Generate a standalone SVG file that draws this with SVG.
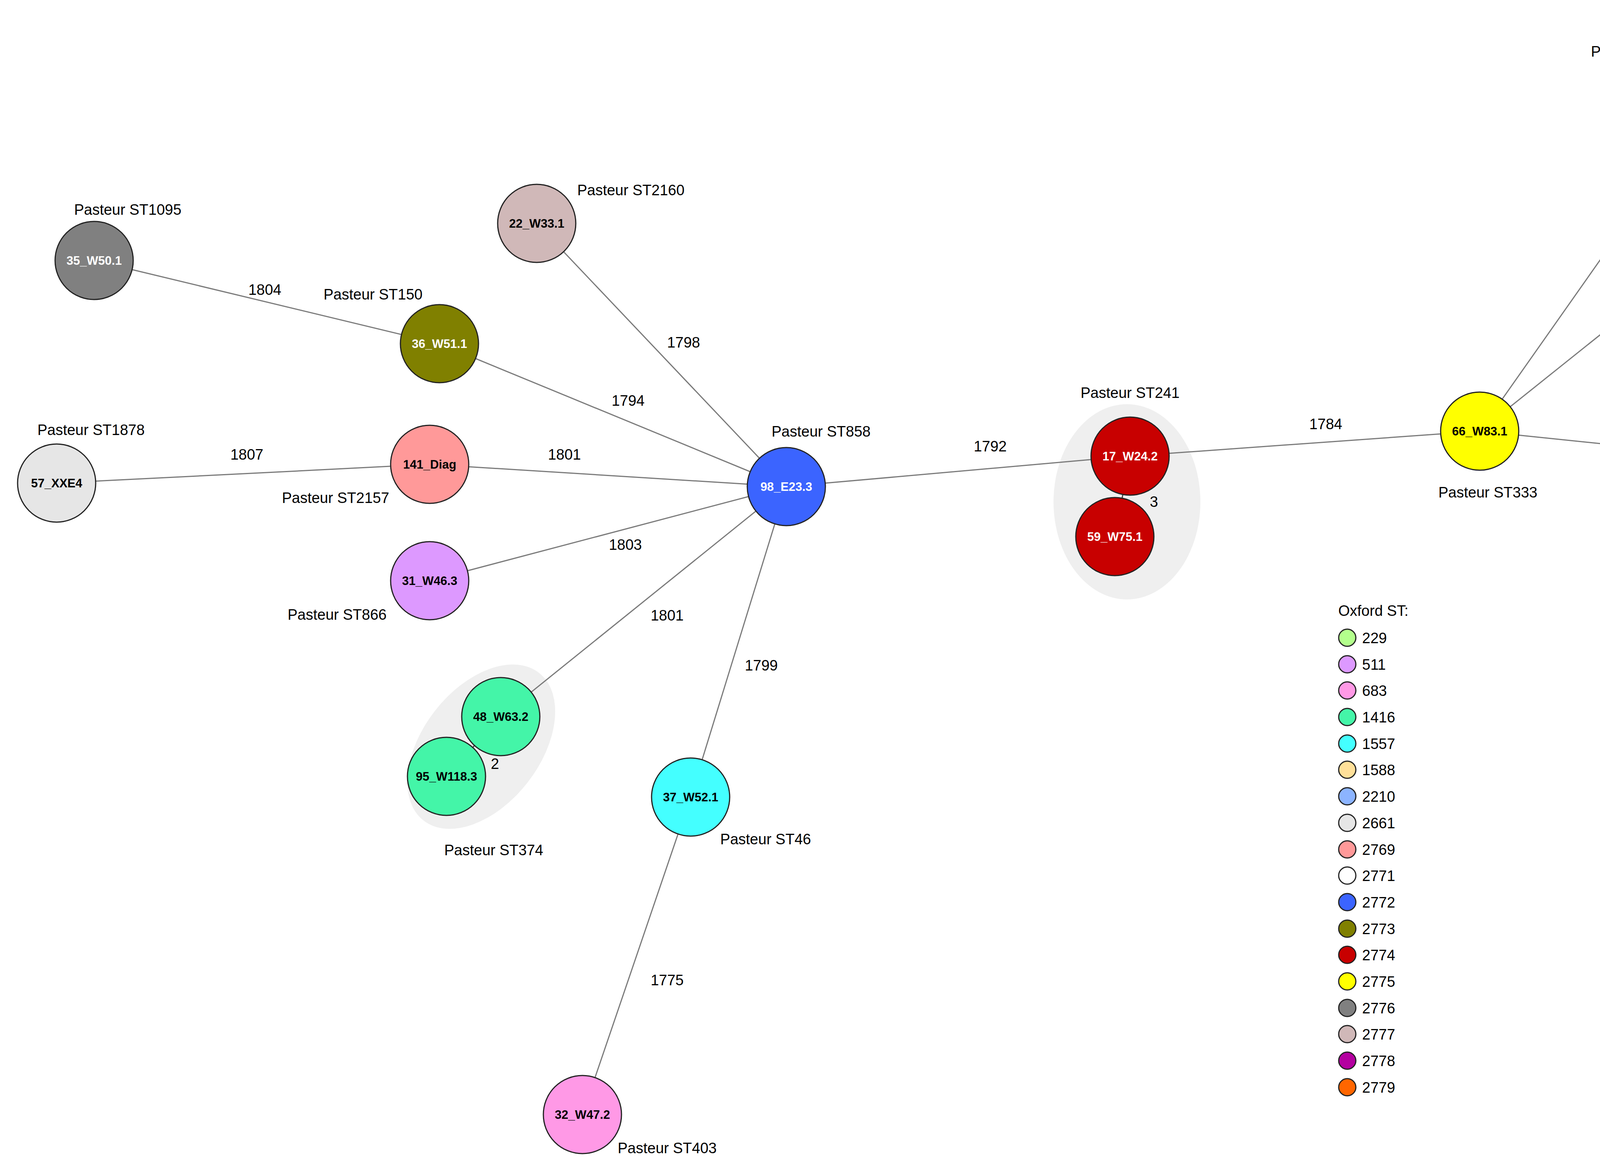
<svg xmlns="http://www.w3.org/2000/svg" width="5567" height="2996" viewBox="0 0 5567 2996">
<style>
.n{stroke:#222;stroke-width:3}
.nl{font-family:"Liberation Sans",Arial,sans-serif;font-weight:bold;font-size:31px;text-anchor:middle;dominant-baseline:central;fill:#000}
.w{fill:#fff}
.pl{font-family:"Liberation Sans",Arial,sans-serif;font-size:38px;fill:#000;text-anchor:middle}
.el{font-family:"Liberation Sans",Arial,sans-serif;font-size:38px;fill:#000;text-anchor:middle;dominant-baseline:central}
.e{stroke:#7a7a7a;stroke-width:3;fill:none}
.ei{stroke:#444;stroke-width:3;fill:none}
.hull{fill:#efefef}
.lg{font-family:"Liberation Sans",Arial,sans-serif;font-size:38px;fill:#000}
</style>
<rect width="5567" height="2996" fill="#fff"/>
<g id="hulls">
<ellipse class="hull" cx="2885" cy="1285" rx="188" ry="250"/>
<ellipse class="hull" cx="1232" cy="1912" rx="240" ry="150" transform="rotate(-52 1232 1912)"/>
<polygon class="hull" stroke="#efefef" stroke-width="60" stroke-linejoin="round" points="4344,1024 4419,929 4543,912 4668,938 4834,912 4958,791 5124,714 5273,731 5332,834 5365,1049 5439,1178 5522,1282 5539,1393 5498,1505 5373,1535 5307,1488 5224,1411 5124,1436 5016,1540 4933,1651 4875,1780 4792,1909 4684,1944 4568,1884 4539,1755 4576,1643 4668,1540 4684,1436 4626,1350 4460,1316 4360,1230 4327,1110"/>
</g>
<g id="connectors">
<line class="e" x1="4462" y1="146" x2="3788" y2="1104"/>
<line class="e" x1="4587" y1="465" x2="3788" y2="1104"/>
<line class="e" x1="3788" y1="1104" x2="4746" y2="1203"/>
<line class="e" x1="3788" y1="1104" x2="2893" y2="1168"/>
<line class="e" x1="2893" y1="1168" x2="2013" y2="1246"/>
<line class="ei" x1="2893" y1="1168" x2="2854" y2="1374"/>
<line class="e" x1="1374" y1="572" x2="2013" y2="1246"/>
<line class="e" x1="1125" y1="880" x2="2013" y2="1246"/>
<line class="e" x1="241" y1="667" x2="1125" y2="880"/>
<line class="e" x1="145" y1="1237" x2="1100" y2="1189"/>
<line class="e" x1="1100" y1="1189" x2="2013" y2="1246"/>
<line class="e" x1="1100" y1="1487" x2="2013" y2="1246"/>
<line class="e" x1="1282" y1="1835" x2="2013" y2="1246"/>
<line class="ei" x1="1282" y1="1835" x2="1143" y2="1988"/>
<line class="e" x1="1768" y1="2041" x2="2013" y2="1246"/>
<line class="e" x1="1491" y1="2854" x2="1768" y2="2041"/>
<line class="ei" x1="4558" y1="1058" x2="4746" y2="1203"/>
<line class="ei" x1="4746" y1="1203" x2="5059" y2="1338" stroke-width="6" stroke="#222"/>
<line class="ei" x1="5059" y1="1338" x2="5119" y2="1104"/>
<line class="ei" x1="5119" y1="1104" x2="5137" y2="863"/>
<line class="ei" x1="5059" y1="1338" x2="5353" y2="1377"/>
<line class="ei" x1="5059" y1="1338" x2="4796" y2="1629"/>
<line class="ei" x1="5059" y1="1338" x2="5194" y2="1651"/>
<line class="ei" x1="4796" y1="1629" x2="4700" y2="1832"/>
<text class="el" x="4161" y="451">1820</text>
<text class="el" x="4335" y="746">1804</text>
<text class="el" x="678" y="742">1804</text>
<text class="el" x="1750" y="877">1798</text>
<text class="el" x="1608" y="1026">1794</text>
<text class="el" x="632" y="1164">1807</text>
<text class="el" x="1445" y="1164">1801</text>
<text class="el" x="1601" y="1395">1803</text>
<text class="el" x="1708" y="1576">1801</text>
<text class="el" x="1949" y="1704">1799</text>
<text class="el" x="1708" y="2510">1775</text>
<text class="el" x="2535" y="1143">1792</text>
<text class="el" x="3394" y="1086">1784</text>
<text class="el" x="4242" y="1111">1808</text>
<text class="el" x="2954" y="1285">3</text>
<text class="el" x="1267" y="1956">2</text>
<text class="el" x="4686" y="1083">22</text>
<text class="el" x="4910" y="1239">85</text>
<text class="el" x="5211" y="987">34</text>
<text class="el" x="5158" y="1239">35</text>
<text class="el" x="5194" y="1328">58</text>
<text class="el" x="4952" y="1516">96</text>
<text class="el" x="5165" y="1484">86</text>
<text class="el" x="4817" y="1764">12</text>
</g>
<g id="n16"><circle class="n" cx="4462" cy="146" r="100" fill="#ffffff"/><text class="nl" x="4462" y="146">16_W23.1</text></g>
<g id="n3"><circle class="n" cx="4587" cy="465" r="100" fill="#8cb4ff"/><text class="nl" x="4587" y="465">3_W5.2</text></g>
<g id="n22"><circle class="n" cx="1374" cy="572" r="100" fill="#d0b8b8"/><text class="nl" x="1374" y="572">22_W33.1</text></g>
<g id="n35"><circle class="n" cx="241" cy="667" r="100" fill="#808080"/><text class="nl w" x="241" y="667">35_W50.1</text></g>
<g id="n36"><circle class="n" cx="1125" cy="880" r="100" fill="#808000"/><text class="nl w" x="1125" y="880">36_W51.1</text></g>
<g id="n57"><circle class="n" cx="145" cy="1237" r="100" fill="#e6e6e6"/><text class="nl" x="145" y="1237">57_XXE4</text></g>
<g id="n141"><circle class="n" cx="1100" cy="1189" r="100" fill="#ff9999"/><text class="nl" x="1100" y="1189">141_Diag</text></g>
<g id="n98"><circle class="n" cx="2013" cy="1246" r="100" fill="#3b64ff"/><text class="nl w" x="2013" y="1246">98_E23.3</text></g>
<g id="n31"><circle class="n" cx="1100" cy="1487" r="100" fill="#dd99ff"/><text class="nl" x="1100" y="1487">31_W46.3</text></g>
<g id="n48"><circle class="n" cx="1282" cy="1835" r="100" fill="#44f5a8"/><text class="nl" x="1282" y="1835">48_W63.2</text></g>
<g id="n95"><circle class="n" cx="1143" cy="1988" r="100" fill="#44f5a8"/><text class="nl" x="1143" y="1988">95_W118.3</text></g>
<g id="n37"><circle class="n" cx="1768" cy="2041" r="100" fill="#44ffff"/><text class="nl" x="1768" y="2041">37_W52.1</text></g>
<g id="n32"><circle class="n" cx="1491" cy="2854" r="100" fill="#ff99e6"/><text class="nl" x="1491" y="2854">32_W47.2</text></g>
<g id="n17"><circle class="n" cx="2893" cy="1168" r="100" fill="#c80000"/><text class="nl w" x="2893" y="1168">17_W24.2</text></g>
<g id="n59"><circle class="n" cx="2854" cy="1374" r="100" fill="#c80000"/><text class="nl w" x="2854" y="1374">59_W75.1</text></g>
<g id="n66"><circle class="n" cx="3788" cy="1104" r="100" fill="#ffff00"/><text class="nl" x="3788" y="1104">66_W83.1</text></g>
<g id="n29"><circle class="n" cx="4558" cy="1058" r="100" fill="#b3ff8c"/><text class="nl" x="4558" y="1058">29_W43.1</text></g>
<g id="n54"><circle class="n" cx="4746" cy="1203" r="100" fill="#b3ff8c"/><text class="nl" x="4746" y="1203">54_W70.1</text></g>
<g id="n94"><circle class="n" cx="5137" cy="863" r="100" fill="#ffe099"/><text class="nl" x="5137" y="845">94_W117.3</text><text class="nl" x="5137" y="881">96_W118.4</text></g>
<g id="n82"><circle class="n" cx="5119" cy="1104" r="100" fill="#ffe099"/><text class="nl" x="5119" y="1104">82_W103.2</text></g>
<g id="n12"><circle class="n" cx="5059" cy="1338" r="100" fill="#ffe099"/><text class="nl" x="5059" y="1338">12_W15.2</text></g>
<g id="n68"><circle class="n" cx="5353" cy="1377" r="100" fill="#ffe099"/><text class="nl" x="5353" y="1377">68_W85.3</text></g>
<g id="n8"><circle class="n" cx="4796" cy="1629" r="100" fill="#b400a0"/><text class="nl w" x="4796" y="1629">8_W11.1</text></g>
<g id="n44"><circle class="n" cx="4700" cy="1832" r="100" fill="#ff6600"/><text class="nl" x="4700" y="1832">44_W59.1</text></g>
<g id="n71"><circle class="n" cx="5194" cy="1651" r="100" fill="#b3ff8c"/><text class="nl" x="5194" y="1651">71_W90.3</text></g>
<g id="pasteur-labels">
<text class="pl" x="4210" y="145">Pasteur ST2158</text>
<text class="pl" x="4700" y="610">Pasteur ST1554</text>
<text class="pl" x="1615" y="500">Pasteur ST2160</text>
<text class="pl" x="327" y="550">Pasteur ST1095</text>
<text class="pl" x="955" y="767">Pasteur ST150</text>
<text class="pl" x="233" y="1114">Pasteur ST1878</text>
<text class="pl" x="859" y="1288">Pasteur ST2157</text>
<text class="pl" x="2102" y="1118">Pasteur ST858</text>
<text class="pl" x="863" y="1587">Pasteur ST866</text>
<text class="pl" x="1264" y="2190">Pasteur ST374</text>
<text class="pl" x="1960" y="2162">Pasteur ST46</text>
<text class="pl" x="1708" y="2953">Pasteur ST403</text>
<text class="pl" x="2893" y="1019">Pasteur ST241</text>
<text class="pl" x="3809" y="1274">Pasteur ST333</text>
<text class="pl" x="4537" y="1484">Pasteur ST25</text>
<text class="pl" x="5361" y="1800">Pasteur ST2159</text>
</g>
<g id="legend">
<text class="lg" x="3426" y="1577">Oxford ST:</text>
<g stroke="#222" stroke-width="3">
<circle cx="3449" cy="1633" r="22" fill="#b3ff8c"/>
<circle cx="3449" cy="1701" r="22" fill="#dd99ff"/>
<circle cx="3449" cy="1768" r="22" fill="#ff99e6"/>
<circle cx="3449" cy="1836" r="22" fill="#44f5a8"/>
<circle cx="3449" cy="1904" r="22" fill="#44ffff"/>
<circle cx="3449" cy="1971" r="22" fill="#ffe099"/>
<circle cx="3449" cy="2039" r="22" fill="#8cb4ff"/>
<circle cx="3449" cy="2107" r="22" fill="#e6e6e6"/>
<circle cx="3449" cy="2175" r="22" fill="#ff9999"/>
<circle cx="3449" cy="2242" r="22" fill="#ffffff"/>
<circle cx="3449" cy="2310" r="22" fill="#3b64ff"/>
<circle cx="3449" cy="2378" r="22" fill="#808000"/>
<circle cx="3449" cy="2445" r="22" fill="#c80000"/>
<circle cx="3449" cy="2513" r="22" fill="#ffff00"/>
<circle cx="3449" cy="2581" r="22" fill="#808080"/>
<circle cx="3449" cy="2648" r="22" fill="#d0b8b8"/>
<circle cx="3449" cy="2716" r="22" fill="#b400a0"/>
<circle cx="3449" cy="2784" r="22" fill="#ff6600"/>
</g>
<text class="lg" x="3487" y="1647">229</text>
<text class="lg" x="3487" y="1715">511</text>
<text class="lg" x="3487" y="1782">683</text>
<text class="lg" x="3487" y="1850">1416</text>
<text class="lg" x="3487" y="1918">1557</text>
<text class="lg" x="3487" y="1985">1588</text>
<text class="lg" x="3487" y="2053">2210</text>
<text class="lg" x="3487" y="2121">2661</text>
<text class="lg" x="3487" y="2189">2769</text>
<text class="lg" x="3487" y="2256">2771</text>
<text class="lg" x="3487" y="2324">2772</text>
<text class="lg" x="3487" y="2392">2773</text>
<text class="lg" x="3487" y="2459">2774</text>
<text class="lg" x="3487" y="2527">2775</text>
<text class="lg" x="3487" y="2595">2776</text>
<text class="lg" x="3487" y="2662">2777</text>
<text class="lg" x="3487" y="2730">2778</text>
<text class="lg" x="3487" y="2798">2779</text>
</g>
</svg>
